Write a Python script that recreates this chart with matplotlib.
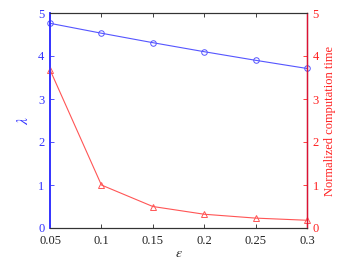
import matplotlib
matplotlib.use("Agg")
import matplotlib.pyplot as plt

eps = [0.05, 0.1, 0.15, 0.2, 0.25, 0.3]
lam = [4.76, 4.53, 4.31, 4.10, 3.90, 3.71]
ctime = [3.68, 1.0, 0.50, 0.32, 0.23, 0.18]
xticks = [0.05, 0.1, 0.15, 0.2, 0.25, 0.3]
xticklabels = ["0.05", "0.1", "0.15", "0.2", "0.25", "0.3"]

plt.rcParams['font.family'] = ['Liberation Serif', 'DejaVu Serif']
plt.rcParams['mathtext.fontset'] = 'stix'
plt.rcParams['font.size'] = 9

blue = '#3333ff'
red = '#ff2020'

fig = plt.figure(figsize=(3.57, 2.68), dpi=100)
ax = fig.add_axes([50/357, 1-228/268, 257/357, 215/268])
ax2 = ax.twinx()

ax.plot(eps, lam, color='#5555ff', lw=0.8, marker='o', ms=4, mfc='none', mew=0.7, clip_on=False)
ax2.plot(eps, ctime, color='#ff5555', lw=0.8, marker='^', ms=4.5, mfc='none', mew=0.7, clip_on=False)

ax.set_xlim(0.05, 0.3)
ax.set_ylim(0, 5)
ax2.set_ylim(0, 5)
ax.set_xticks(xticks)
ax.set_xticklabels(xticklabels)
ax.set_yticks([0, 1, 2, 3, 4, 5])
ax2.set_yticks([0, 1, 2, 3, 4, 5])

ax.tick_params(axis='x', direction='in', top=True, length=3, width=0.6, colors='#222222', pad=5)
ax.tick_params(axis='y', direction='in', length=3, width=0.6, colors=blue, labelcolor=blue, pad=4)
ax2.tick_params(axis='y', direction='in', length=3, width=0.6, colors=red, labelcolor=red, pad=4)

for a in (ax, ax2):
    a.spines['top'].set_color('#333333')
    a.spines['bottom'].set_color('#333333')
    a.spines['top'].set_linewidth(0.8)
    a.spines['bottom'].set_linewidth(0.8)
ax2.spines['left'].set_color(blue)
ax2.spines['left'].set_linewidth(1.2)
ax2.spines['right'].set_color('#dd1133')
ax2.spines['right'].set_linewidth(1.0)
ax.spines['left'].set_color(blue)
ax.spines['left'].set_linewidth(1.2)

ax.set_xlabel(r'$\epsilon$', color='#222222', labelpad=0, fontsize=10)
ax.set_ylabel(r'$\lambda$', color=blue, labelpad=10, fontsize=11)
ax.yaxis.set_label_coords(-0.075, 0.5)
ax2.set_ylabel('Normalized computation time', color=red, labelpad=4)

fig.savefig('out.png', dpi=100)
